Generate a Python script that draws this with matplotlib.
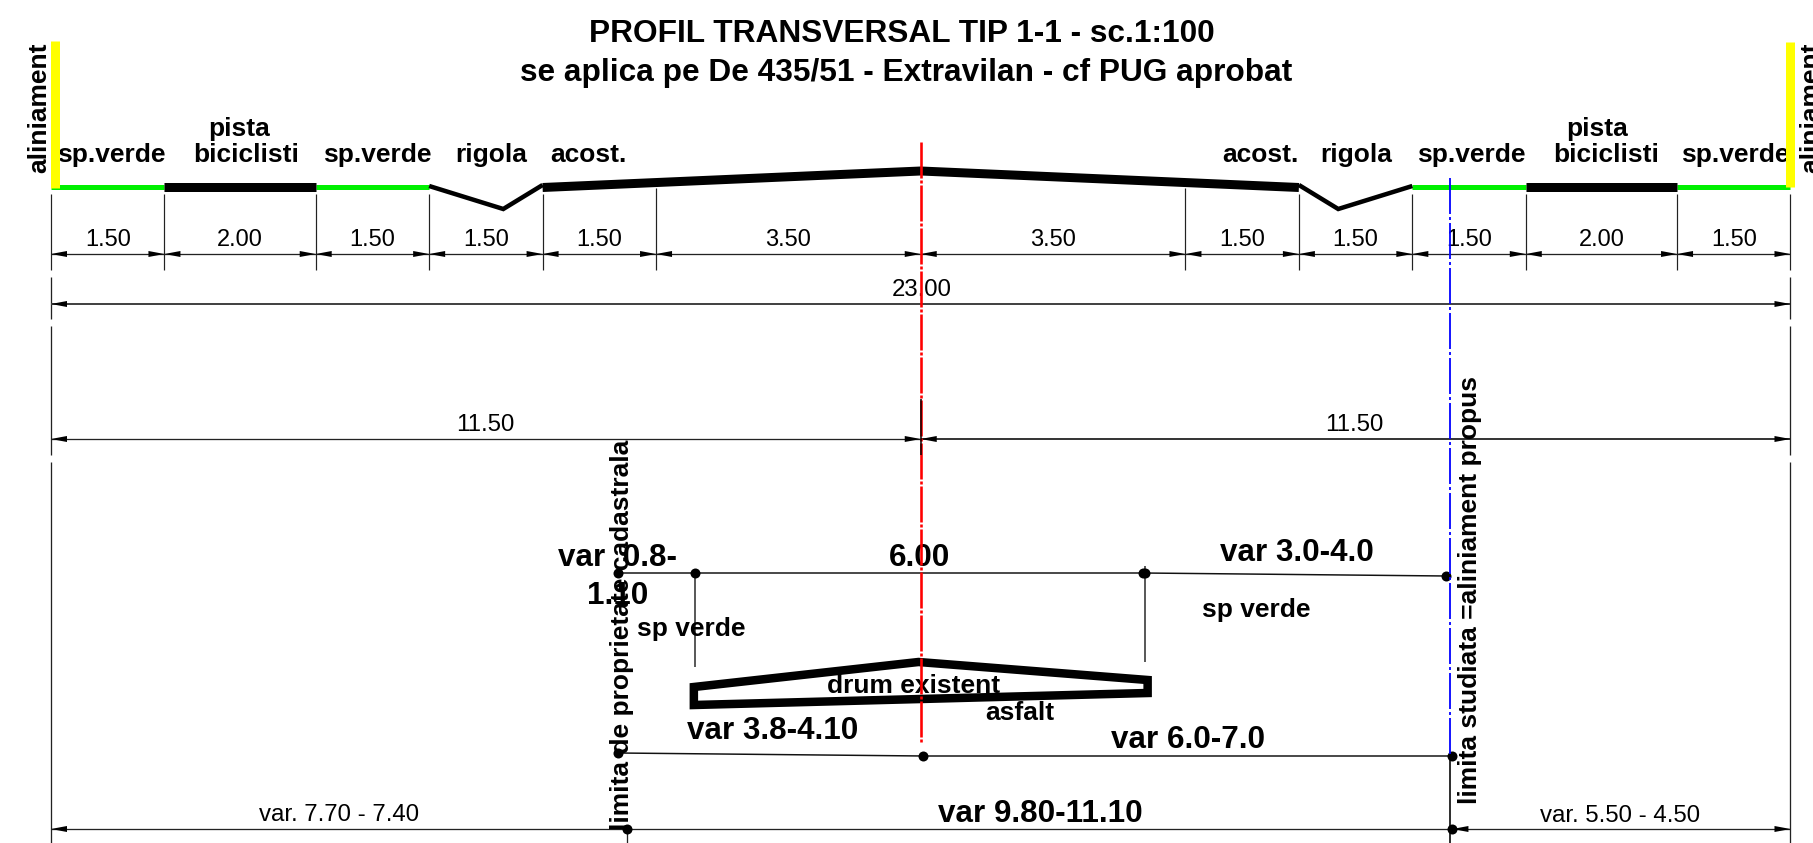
import numpy as np
import matplotlib
matplotlib.use("Agg")
import matplotlib.pyplot as plt
from matplotlib.transforms import Affine2D

# ---- profile data: widths in metres, levels in sheet rows ----
section_widths = [1.5, 2.0, 1.5, 1.5, 1.5, 3.5, 3.5, 1.5, 1.5, 1.5, 2.0, 1.5]
width_labels = ["1.50", "2.00", "1.50", "1.50", "1.50", "3.50",
                "3.50", "1.50", "1.50", "1.50", "2.00", "1.50"]
green_spans = [(0.0, 1.5), (3.5, 5.0), (18.0, 19.5), (21.5, 23.0)]
bike_spans = [(1.5, 3.5), (19.5, 21.5)]
ground_level = 187

ditch_left_x = [5.0, 5.98, 6.5]
ditch_left_y = [186, 209, 185]
ditch_right_x = [16.5, 17.02, 18.0]
ditch_right_y = [185, 209, 186]
road_x = [6.5, 11.5, 16.5]
road_y = [187.5, 171, 187.5]

existing_x = [8.5, 11.47, 14.5, 14.5, 8.5]
existing_y = [687, 662, 680, 693, 705]

upper_x = [7.497, 8.515, 14.44, 18.445]
upper_y = [573, 573, 573, 576]
lower_x = [7.497, 11.53, 18.52]
lower_y = [753, 756, 756]
bottom_dots_x = [7.616, 18.52]
bottom_dots_y = [829, 829]
cadastral_x = 7.616
studied_x = 18.5
axis_x = 11.5
overall_width = 23.0

PX_PER_M = 75.63
ORIGIN_PX = 51.0
W, H = 1813, 843

# ---- figure ----
plt.rcParams["font.family"] = ["Liberation Sans", "DejaVu Sans"]
plt.rcParams["lines.scale_dashes"] = False
fig = plt.figure(figsize=(W / 100, H / 100), dpi=100, facecolor="white")
ax = fig.add_axes([0, 0, 1, 1])
ax.set_xlim(-ORIGIN_PX / PX_PER_M, (W - ORIGIN_PX) / PX_PER_M)
ax.set_ylim(H, 0)
ax.axis("off")
sheet = Affine2D().scale(1 / W, -1 / H).translate(0, 1) + fig.transFigure
PT = 0.72  # points per pixel


def label(x, y, s, size, bold=True, rot=0, **kw):
    ax.text(x, y, s, transform=sheet, fontsize=size, rotation=rot,
            fontweight="bold" if bold else "normal", ha="center", va="center",
            color="black", rotation_mode="anchor", clip_on=False, **kw)


def line(xs, ys, px=1.3, color="#222222", z=2, cap="butt", **kw):
    ax.plot(xs, ys, color=color, lw=px * PT, solid_capstyle=cap, zorder=z, **kw)


def arrow(x, y, direction):
    dx = 16 / PX_PER_M * direction
    ax.fill([x, x + dx, x + dx], [y, y - 3, y + 3], color="black", lw=0, zorder=3)


def dim(x0, x1, y, left=True, right=True, px=1.3, color="#222222"):
    line([x0, x1], [y, y], px=px, color=color)
    if left:
        arrow(x0, y, 1)
    if right:
        arrow(x1, y, -1)


stations = np.concatenate([[0.0], np.cumsum(section_widths)])

# surface
for a, b in green_spans:
    line([a, b], [ground_level, ground_level], px=5, color="#00f000", z=3)
for a, b in bike_spans:
    line([a, b], [ground_level, ground_level], px=9, color="black", z=4)
line(ditch_left_x, ditch_left_y, px=4.5, color="black", z=4, solid_joinstyle="miter")
line(ditch_right_x, ditch_right_y, px=4.5, color="black", z=4, solid_joinstyle="miter")
line(road_x, road_y, px=9, color="black", z=4, solid_joinstyle="miter")

# alignment bars
line([0.05, 0.05], [41, 188], px=9, color="#ffff00", z=5)
line([overall_width - 0.01] * 2, [42, 187], px=9, color="#ffff00", z=5)

# row 1 dimensions
for st in stations:
    if np.isclose(st, axis_x):
        continue
    top = 188 if np.isclose(st, 8.0) or np.isclose(st, 15.0) else 194
    line([st, st], [top, 270], px=1.2)
for a, b, s in zip(stations[:-1], stations[1:], width_labels):
    dim(a, b, 254)
    label(ORIGIN_PX + (a + b) / 2 * PX_PER_M, 240, s, 17, bold=False)

# overall dimension rows
for xb in (0.0, overall_width):
    line([xb, xb], [277, 319], px=1.3)
    line([xb, xb], [326, 455], px=1.3)
    line([xb, xb], [462, 843], px=1.3)
dim(0, overall_width, 304, px=2, color="#444444")
label(922, 290, "23.00", 17.3, bold=False)
dim(0, axis_x, 439)
dim(axis_x, overall_width, 439, px=1.8)
label(485, 425, "11.50", 17.3, bold=False)
label(1354, 425, "11.50", 17.3, bold=False)
line([axis_x, axis_x], [399, 455], px=1.5, color="black", z=7)

# bottom row
dim(0, cadastral_x, 829, right=False)
dim(cadastral_x, studied_x, 829, left=False, right=False)
dim(studied_x + 0.03, overall_width, 829)
label(339, 815, "var. 7.70 - 7.40", 17.3, bold=False)
label(1620, 816, "var. 5.50 - 4.50", 17.3, bold=False)
line([cadastral_x, cadastral_x], [829, 843], px=1.3)
line([studied_x, studied_x], [756, 843], px=1.6, color="black", z=3)

# axis lines
ax.plot([axis_x, axis_x], [142, 742], color="#ff0000", lw=2.6 * PT, zorder=6,
        linestyle=(0, (36 * PT, 2 * PT, 3 * PT, 2 * PT)))
ax.plot([studied_x, studied_x], [178, 756], color="#0000ff", lw=1.8 * PT, zorder=6,
        linestyle=(0, (36 * PT, 3 * PT, 3 * PT, 3 * PT)))

# existing road
ax.fill(existing_x, existing_y, facecolor="none", edgecolor="black", lw=8.5 * PT,
        joinstyle="miter", zorder=4)

# existing limits
line(upper_x, upper_y, px=1.5, color="#111111")
line(lower_x, lower_y, px=1.5, color="#111111")
line([upper_x[1]] * 2, [573, 667], px=1.6, color="#333333")
line([upper_x[2] + 0.03] * 2, [566, 662], px=1.6, color="#333333")
ax.plot(upper_x, upper_y, "o", color="black", ms=10 * PT, mew=0, zorder=5)
ax.plot([upper_x[2] + 0.03], [upper_y[2]], "o", color="black", ms=10 * PT, mew=0, zorder=5)
ax.plot(lower_x, lower_y, "o", color="black", ms=10 * PT, mew=0, zorder=5)
ax.plot(bottom_dots_x, bottom_dots_y, "o", color="black", ms=10 * PT, mew=0, zorder=5)

# text: titles
label(902, 34, "PROFIL TRANSVERSAL TIP 1-1 - sc.1:100", 22.8)
label(906, 73, "se aplica pe De 435/51 - Extravilan - cf PUG aprobat", 22.8)
# text: top row
for x, y, s in [(111, 155, "sp.verde"), (239, 129, "pista"), (246, 155, "biciclisti"),
                (377, 155, "sp.verde"), (491, 155, "rigola"), (588, 155, "acost."),
                (1260, 155, "acost."), (1356, 155, "rigola"), (1471, 155, "sp.verde"),
                (1597, 129, "pista"), (1606, 155, "biciclisti"), (1735, 155, "sp.verde")]:
    label(x, y, s, 19)
label(39, 108, "aliniament", 19, rot=90)
label(1811, 108, "aliniament", 19, rot=90)
# text: vertical limits
label(622, 635, "limita de proprietate cadastrala", 19, rot=90, zorder=7)
label(1470, 590, "limita studiata =aliniament propus", 19, rot=90, zorder=7)
# text: existing section
label(618, 558, "var  0.8-", 22.6)
label(618, 596, "1.10", 22.6)
label(920, 558, "6.00", 22.6)
label(773, 731, "var 3.8-4.10", 22.6)
label(1297, 553, "var 3.0-4.0", 22.6)
label(1188, 740, "var 6.0-7.0", 22.6)
label(1040, 814, "var 9.80-11.10", 22.6)
label(691, 629, "sp verde", 19)
label(1256, 610, "sp verde", 19)
label(914, 686, "drum existent", 19)
label(1020, 713, "asfalt", 19)

fig.savefig("out.png", dpi=100, facecolor="white")
